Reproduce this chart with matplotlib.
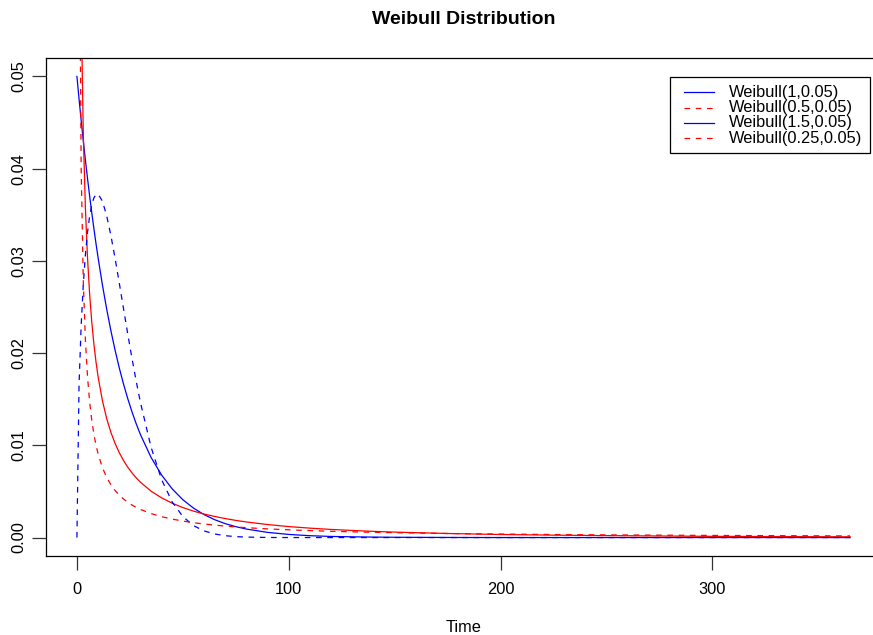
import numpy as np
import matplotlib
matplotlib.use("Agg")
import matplotlib.pyplot as plt
from matplotlib.lines import Line2D
from matplotlib.patches import Rectangle

plt.rcParams['font.family'] = ['Liberation Sans', 'DejaVu Sans']

# time points (days) and density values
time = [0, 1, 2, 3, 4, 5, 6, 7, 8, 9, 10, 12, 14, 16, 18, 20, 22, 24, 26, 28, 30,
        35, 40, 45, 50, 55, 60, 65, 70, 75, 80, 90, 100, 110, 120, 130, 140, 150,
        175, 200, 225, 250, 275, 300, 325, 350, 365]

w_1 = [0.05000, 0.04756, 0.04524, 0.04304, 0.04094, 0.03894, 0.03704, 0.03523,
       0.03352, 0.03188, 0.03033, 0.02744, 0.02483, 0.02247, 0.02033, 0.01839,
       0.01664, 0.01506, 0.01363, 0.01233, 0.01116, 0.00869, 0.00677, 0.00527,
       0.00410, 0.00320, 0.00249, 0.00194, 0.00151, 0.00118, 0.00092, 0.00056,
       0.00034, 0.00020, 0.00012, 0.00008, 0.00005, 0.00003, 0.00001, 0.0, 0.0,
       0.0, 0.0, 0.0, 0.0, 0.0, 0.0]

w_05 = [np.nan, 0.08940, 0.05763, 0.04382, 0.03574, 0.03033, 0.02640, 0.02339,
        0.02100, 0.01905, 0.01743, 0.01488, 0.01294, 0.01143, 0.01021, 0.00920,
        0.00835, 0.00763, 0.00701, 0.00647, 0.00600, 0.00503, 0.00430, 0.00372,
        0.00325, 0.00287, 0.00255, 0.00229, 0.00206, 0.00186, 0.00169, 0.00141,
        0.00119, 0.00102, 0.00088, 0.00077, 0.00067, 0.00059, 0.00044, 0.00033,
        0.00026, 0.00021, 0.00017, 0.00013, 0.00011, 0.00009, 0.00008]

w_15 = [0.0, 0.01658, 0.02298, 0.02741, 0.03067, 0.03309, 0.03485, 0.03607,
        0.03683, 0.03720, 0.03724, 0.03650, 0.03494, 0.03280, 0.03029, 0.02759,
        0.02481, 0.02207, 0.01942, 0.01693, 0.01463, 0.00980, 0.00627, 0.00385,
        0.00228, 0.00130, 0.00072, 0.00039, 0.00020, 0.00010, 0.00005, 0.00001,
        0.0, 0.0, 0.0, 0.0, 0.0, 0.0, 0.0, 0.0, 0.0, 0.0, 0.0, 0.0, 0.0, 0.0, 0.0]

w_025 = [np.nan, 0.07367, 0.04006, 0.02783, 0.02141, 0.01743, 0.01471, 0.01273,
         0.01122, 0.01003, 0.00907, 0.00760, 0.00654, 0.00574, 0.00511, 0.00460,
         0.00418, 0.00383, 0.00353, 0.00327, 0.00305, 0.00260, 0.00226, 0.00200,
         0.00179, 0.00161, 0.00147, 0.00135, 0.00124, 0.00115, 0.00107, 0.00094,
         0.00084, 0.00075, 0.00068, 0.00062, 0.00057, 0.00053, 0.00044, 0.00038,
         0.00033, 0.00029, 0.00026, 0.00023, 0.00021, 0.00019, 0.00018]

legend_labels = ['Weibull(1,0.05)', 'Weibull(0.5,0.05)',
                 'Weibull(1.5,0.05)', 'Weibull(0.25,0.05)']

W, H = 873, 635
fig = plt.figure(figsize=(W / 100, H / 100), dpi=100)

def fx(px):
    return px / W

def fy(py):
    return 1 - py / H

# plot region (right edge runs past the image like the original)
ax = fig.add_axes([fx(46), fy(556), fx(881) - fx(46), fy(58) - fy(556)])

dash = (0, (4.5, 4.5))
ax.plot(time, w_1, color='blue', lw=0.9)
ax.plot(time, w_05, color='red', lw=0.9)
ax.plot(time, w_15, color='blue', lw=0.9, linestyle=dash)
ax.plot(time, w_025, color='red', lw=0.9, linestyle=dash)

ax.set_xlim(-14.6, 379.6)
ax.set_ylim(-0.002, 0.052)

ax.set_xticks([0, 100, 200, 300])
ax.set_yticks([0.0, 0.01, 0.02, 0.03, 0.04, 0.05])
ax.set_yticklabels(['0.00', '0.01', '0.02', '0.03', '0.04', '0.05'])
ax.tick_params(axis='both', length=10, width=0.9, labelsize=11.8, color='#333333')
ax.tick_params(axis='x', pad=9)
ax.tick_params(axis='y', pad=4)
plt.setp(ax.get_yticklabels(), rotation=90, va='center')
for s in ax.spines.values():
    s.set_linewidth(0.9)

fig.text(fx(463.5), fy(19), 'Weibull Distribution', ha='center', va='center',
         fontsize=14, fontweight='bold')
fig.text(fx(463.5), fy(628), 'Time', ha='center', va='center', fontsize=11.8)

# legend box drawn like the R one
fig.add_artist(Rectangle((fx(670), fy(153)), fx(870) - fx(670), fy(77) - fy(153),
                         transform=fig.transFigure, fill=False, lw=0.9, ec='black'))
leg_colors = ['blue', 'red', 'blue', 'red']
leg_styles = ['-', dash, '-', dash]
for i, lab in enumerate(legend_labels):
    yy = 92.3 + 15.3 * i
    fig.add_artist(Line2D([fx(684), fx(714)], [fy(yy), fy(yy)], transform=fig.transFigure,
                          color=leg_colors[i], linestyle=leg_styles[i], lw=0.9))
    fig.text(fx(728.5), fy(yy), lab, ha='left', va='center', fontsize=11.8)

fig.savefig('out.png', dpi=100)
